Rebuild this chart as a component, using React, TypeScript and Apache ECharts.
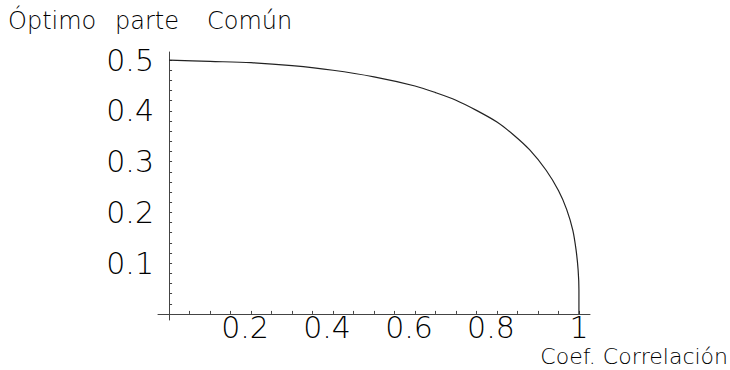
import React, { useEffect, useRef } from "react";
import * as echarts from "echarts";

const correlation = [0, 0.1, 0.2, 0.3, 0.4, 0.5, 0.6, 0.65, 0.7, 0.75, 0.8, 0.84, 0.88, 0.92, 0.95, 0.97, 0.985, 0.993, 0.998, 1, 1];
const commonPart = [0.5, 0.4975, 0.495, 0.489, 0.48, 0.467, 0.449, 0.436, 0.421, 0.401, 0.378, 0.353, 0.323, 0.283, 0.243, 0.206, 0.165, 0.126, 0.087, 0.047, 0];

const xTickLabels = [0.2, 0.4, 0.6, 0.8, 1];
const yTickLabels = [0.1, 0.2, 0.3, 0.4, 0.5];
const xTicks = [0.05, 0.1, 0.15, 0.2, 0.25, 0.3, 0.35, 0.4, 0.45, 0.5, 0.55, 0.6, 0.65, 0.7, 0.75, 0.8, 0.85, 0.9, 0.95, 1.0];
const yTicks = [0.02, 0.04, 0.06, 0.08, 0.1, 0.12, 0.14, 0.16, 0.18, 0.2, 0.22, 0.24, 0.26, 0.28, 0.3, 0.32, 0.34, 0.36, 0.38, 0.4, 0.42, 0.44, 0.46, 0.48, 0.5];

const titleWords = ["Óptimo", "parte", "Común"];
const xName = "Coef. Correlación";

const FONT = "'DejaVu Sans', sans-serif";

export default function App() {
  const ref = useRef<HTMLDivElement>(null);
  useEffect(() => {
    if (!ref.current) return;
    const chart = echarts.init(ref.current, null, { renderer: "svg" });
    const labelStyle = { fontSize: 30, fontFamily: FONT, fontWeight: 200, color: "#000", lineHeight: 28 };
    const xLabelStyle = { ...labelStyle, lineHeight: 26 };
    const titleX = [8, 115, 207];
    chart.setOption({
      animation: false,
      backgroundColor: "#ffffff",
      grid: { left: 158, right: 140, top: 52, bottom: 50 },
      xAxis: {
        type: "value",
        min: -0.027,
        max: 1.027,
        splitLine: { show: false },
        axisLine: { onZero: true, lineStyle: { color: "#444", width: 1 } },
        axisTick: { show: true, inside: true, length: 3, customValues: xTicks, lineStyle: { color: "#444", width: 1 } },
        axisLabel: {
          customValues: xTickLabels,
          ...xLabelStyle,
          verticalAlign: "middle",
          margin: 7,
          formatter: (v: number) => (v === 1 ? "{b|1}" : "{a|" + String(v) + "}"),
          rich: {
            a: { ...xLabelStyle, padding: [0, 12, 0, 0] },
            b: { ...xLabelStyle },
          },
        },
      },
      yAxis: {
        type: "value",
        min: -0.012,
        max: 0.516,
        splitLine: { show: false },
        axisLine: { onZero: true, lineStyle: { color: "#444", width: 1 } },
        axisTick: { show: true, inside: true, length: 3, customValues: yTicks, lineStyle: { color: "#444", width: 1 } },
        axisLabel: {
          customValues: yTickLabels,
          ...labelStyle,
          margin: 4,
          formatter: (v: number) => String(v),
        },
      },
      series: [
        {
          type: "line",
          data: correlation.map((x, i) => [x, commonPart[i]]),
          showSymbol: false,
          smooth: 0.3,
          lineStyle: { color: "#222", width: 1.2 },
        },
      ],
      graphic: [
        ...titleWords.map((w, i) => ({
          type: "text",
          left: titleX[i],
          top: 9,
          style: { text: w, fontSize: 24, fontFamily: FONT, fontWeight: 200, fill: "#000" },
        })),
        {
          type: "text",
          right: 2,
          top: 345,
          style: { text: xName, fontSize: 22, lineHeight: 22, fontFamily: FONT, fontWeight: 200, fill: "#000" },
        },
      ],
    });
    return () => chart.dispose();
  }, []);
  return <div ref={ref} style={{ width: 730, height: 370, position: "absolute", left: 0, top: 0 }} />;
}
